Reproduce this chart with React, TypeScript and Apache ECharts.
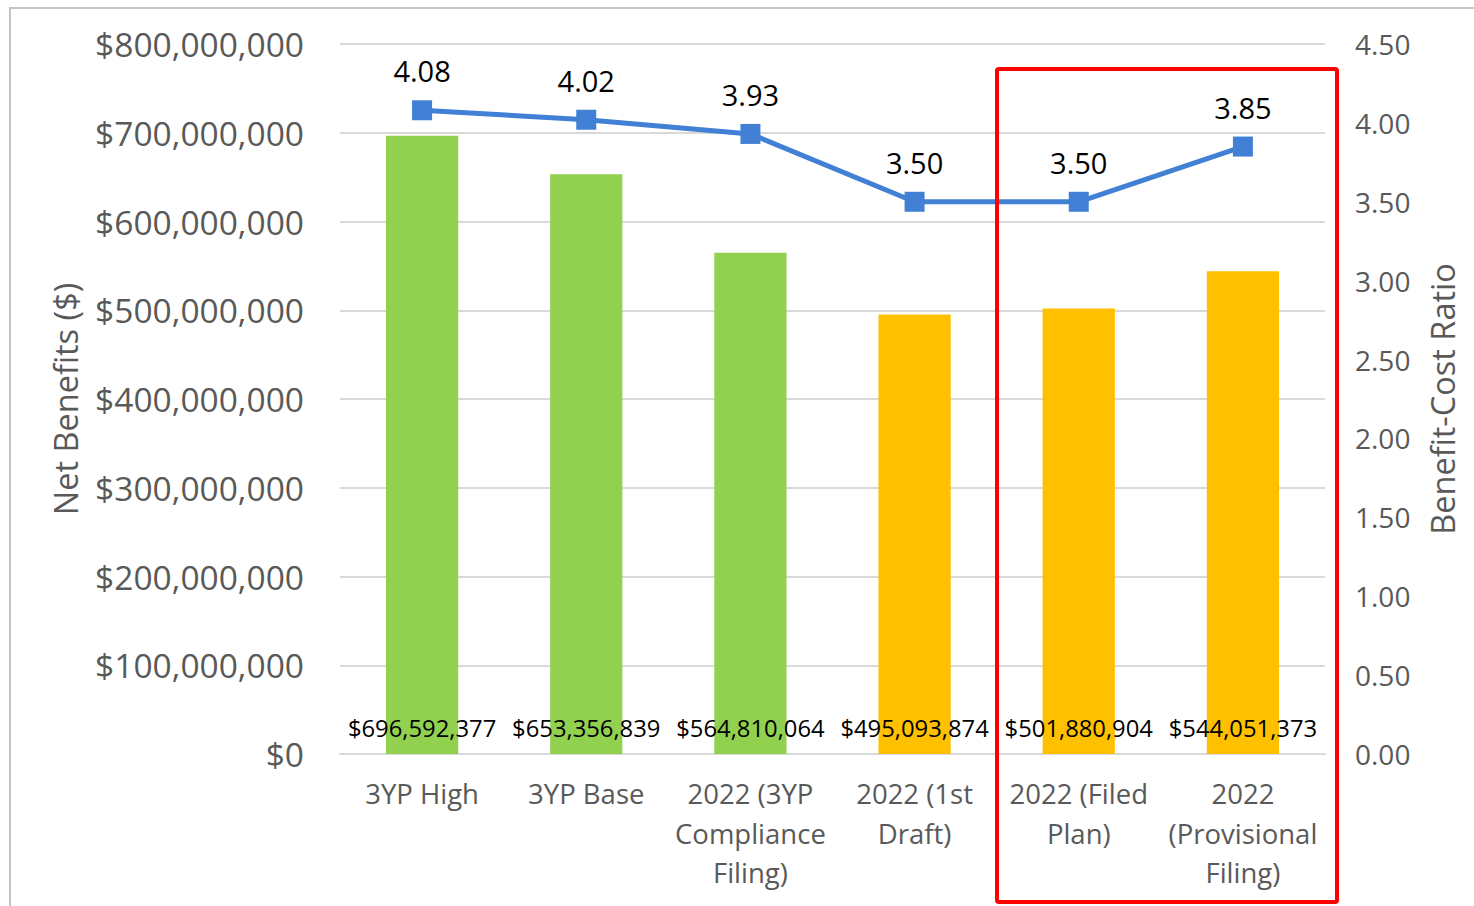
import React, { useEffect, useRef } from "react";
import * as echarts from "echarts";

// Scenario names along the category axis
const categories = [
  "3YP High",
  "3YP Base",
  "2022 (3YP\nCompliance\nFiling)",
  "2022 (1st\nDraft)",
  "2022 (Filed\nPlan)",
  "2022\n(Provisional\nFiling)",
];

// Net benefits in dollars (bars)
const netBenefits = [696592377, 653356839, 564810064, 495093874, 501880904, 544051373];

// Bar colours: 3YP-era scenarios green, 2022 scenarios amber
const barColors = ["#92D050", "#92D050", "#92D050", "#FFC000", "#FFC000", "#FFC000"];

// Benefit-cost ratio (line, right axis)
const bcRatio = [4.08, 4.02, 3.93, 3.5, 3.5, 3.85];

const FONT = "'Open Sans', 'Noto Sans', sans-serif";
const GRAY = "#595959";

const fmtDollars = (v: number) => "$" + Math.round(v).toLocaleString("en-US");

export default function App() {
  const ref = useRef<HTMLDivElement>(null);

  useEffect(() => {
    document.body.style.margin = "0";
    const chart = echarts.init(ref.current!, null, { renderer: "svg" });
    chart.setOption({
      animation: false,
      backgroundColor: "#ffffff",
      textStyle: { fontFamily: FONT },
      grid: { left: 340, right: 149, top: 44, bottom: 152 },
      xAxis: {
        type: "category",
        data: categories,
        axisLine: { show: true, lineStyle: { color: "#d9d9d9", width: 2 } },
        axisTick: { show: false },
        axisLabel: {
          color: GRAY,
          fontSize: 27.5,
          fontFamily: FONT,
          lineHeight: 39.5,
          margin: 20,
          interval: 0,
        },
      },
      yAxis: [
        {
          type: "value",
          min: 0,
          max: 800000000,
          interval: 100000000,
          name: "Net Benefits ($)",
          nameLocation: "middle",
          nameGap: 258,
          nameRotate: 90,
          nameTextStyle: { color: GRAY, fontSize: 32.5, fontFamily: FONT },
          axisLine: { show: false },
          axisTick: { show: false },
          axisLabel: {
            color: GRAY,
            fontSize: 33.5,
            fontFamily: FONT,
            margin: 36,
            formatter: (v: number) => fmtDollars(v),
          },
          splitLine: { lineStyle: { color: "#d9d9d9", width: 2 } },
        },
        {
          type: "value",
          min: 0,
          max: 4.5,
          interval: 0.5,
          name: "Benefit-Cost Ratio",
          nameLocation: "middle",
          nameGap: 101,
          nameRotate: 90,
          nameTextStyle: { color: GRAY, fontSize: 32.5, fontFamily: FONT },
          axisLine: { show: false },
          axisTick: { show: false },
          axisLabel: {
            color: GRAY,
            fontSize: 28,
            fontFamily: FONT,
            margin: 30,
            formatter: (v: number) => v.toFixed(2),
          },
          splitLine: { show: false },
        },
      ],
      series: [
        {
          type: "bar",
          yAxisIndex: 0,
          barWidth: "44%",
          data: netBenefits.map((v, i) => ({ value: v, itemStyle: { color: barColors[i] } })),
          label: {
            show: true,
            position: "insideBottom",
            distance: 14,
            color: "#000000",
            fontSize: 23.8,
            fontFamily: FONT,
            formatter: (p: any) => fmtDollars(p.value),
          },
          z: 2,
        },
        {
          type: "line",
          yAxisIndex: 1,
          data: bcRatio,
          symbol: "rect",
          symbolSize: 20,
          lineStyle: { color: "#4180D4", width: 5 },
          itemStyle: { color: "#4180D4" },
          label: {
            show: true,
            position: "top",
            distance: 15,
            color: "#000000",
            fontSize: 29,
            fontFamily: FONT,
            formatter: (p: any) => p.value.toFixed(2),
          },
          z: 3,
        },
      ],
      graphic: [
        {
          type: "rect",
          shape: { x: 10, y: 8, width: 1480, height: 920 },
          style: { fill: "none", stroke: "#c4c4c4", lineWidth: 2 },
          silent: true,
          z: 0,
        },
        {
          type: "rect",
          shape: { x: 997, y: 69, width: 340, height: 833, r: 2 },
          style: { fill: "none", stroke: "#ff0000", lineWidth: 4 },
          silent: true,
          z: 100,
        },
      ],
    });
    return () => chart.dispose();
  }, []);

  return (
    <div
      ref={ref}
      style={{ position: "absolute", left: 0, top: 0, width: 1474, height: 906 }}
    />
  );
}
